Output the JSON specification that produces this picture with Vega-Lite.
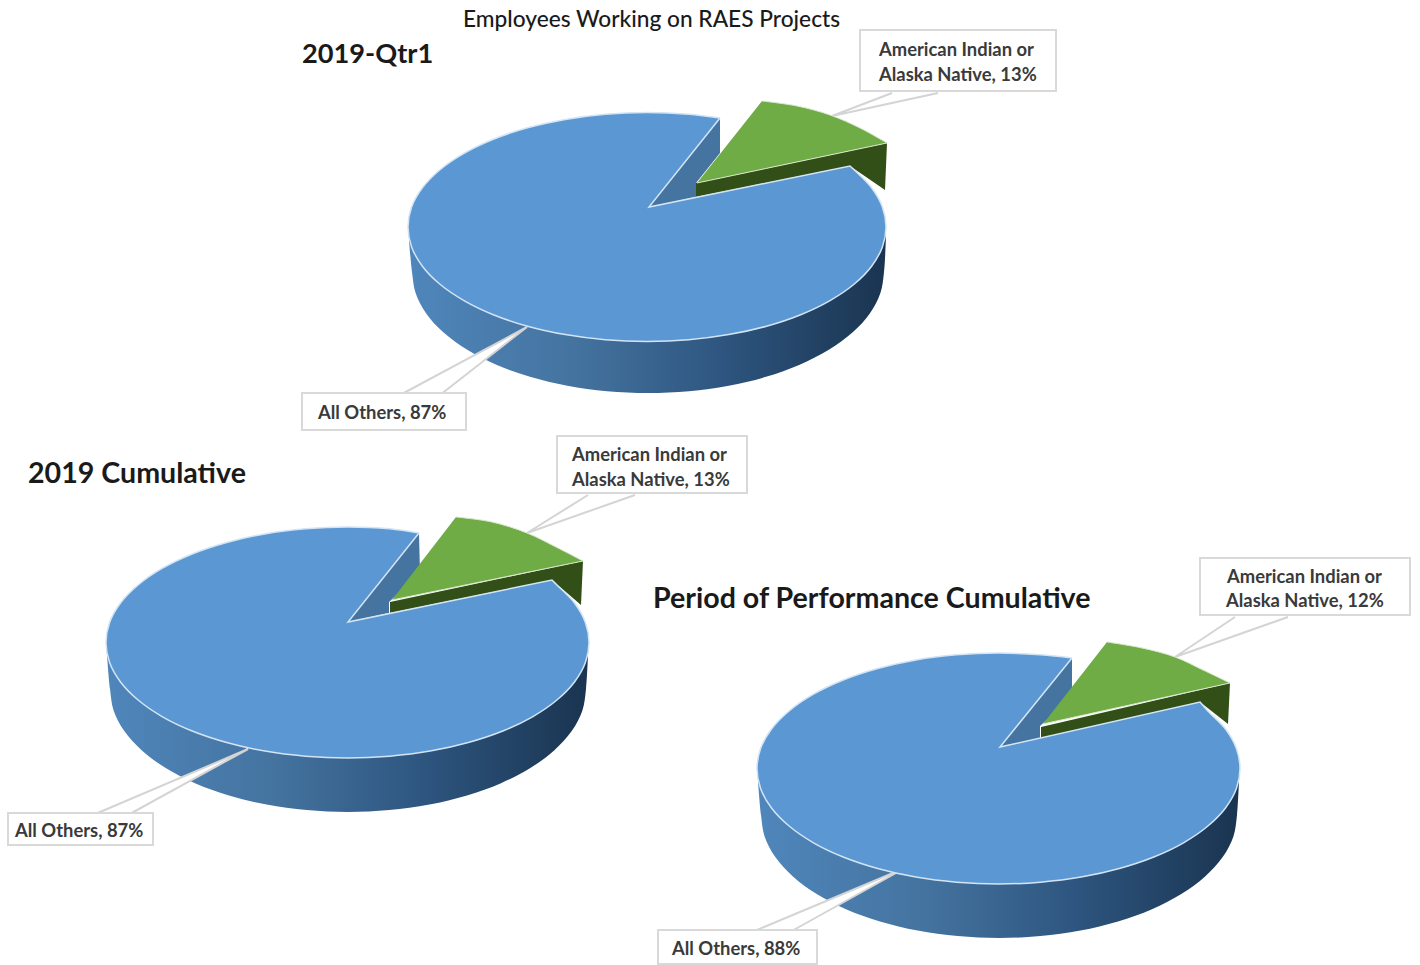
{"$schema":"https://vega.github.io/schema/vega-lite/v6.json","width":1420,"height":965,"autosize":{"type":"fit","contains":"padding"},"padding":0,"background":"white","config":{"view":{"stroke":null}},
"datasets":{
"shapes":[
{"pie":"q","part":"side","seq":1,"x":409,"y":240},{"pie":"q","part":"side","seq":2,"x":412,"y":272},{"pie":"q","part":"side","seq":3,"x":415.6,"y":293},{"pie":"q","part":"side","seq":4,"x":426.2,"y":313.4},{"pie":"q","part":"side","seq":5,"x":443.6,"y":332.5},{"pie":"q","part":"side","seq":6,"x":467.2,"y":349.8},{"pie":"q","part":"side","seq":7,"x":496.3,"y":364.7},{"pie":"q","part":"side","seq":8,"x":530,"y":376.8},{"pie":"q","part":"side","seq":9,"x":567.3,"y":385.7},{"pie":"q","part":"side","seq":10,"x":607,"y":391.2},{"pie":"q","part":"side","seq":11,"x":648,"y":393},{"pie":"q","part":"side","seq":12,"x":689,"y":391.2},{"pie":"q","part":"side","seq":13,"x":728.7,"y":385.7},{"pie":"q","part":"side","seq":14,"x":766,"y":376.8},{"pie":"q","part":"side","seq":15,"x":799.7,"y":364.7},{"pie":"q","part":"side","seq":16,"x":828.8,"y":349.8},{"pie":"q","part":"side","seq":17,"x":852.4,"y":332.5},{"pie":"q","part":"side","seq":18,"x":869.8,"y":313.4},{"pie":"q","part":"side","seq":19,"x":880.4,"y":293},{"pie":"q","part":"side","seq":20,"x":884,"y":272},{"pie":"q","part":"side","seq":21,"x":886,"y":235},
{"pie":"c","part":"side","seq":1,"x":107,"y":655},{"pie":"c","part":"side","seq":2,"x":110,"y":689},{"pie":"c","part":"side","seq":3,"x":113.6,"y":710.4},{"pie":"c","part":"side","seq":4,"x":124.3,"y":731.1},{"pie":"c","part":"side","seq":5,"x":141.9,"y":750.5},{"pie":"c","part":"side","seq":6,"x":165.7,"y":768.1},{"pie":"c","part":"side","seq":7,"x":195,"y":783.2},{"pie":"c","part":"side","seq":8,"x":229,"y":795.5},{"pie":"c","part":"side","seq":9,"x":266.6,"y":804.6},{"pie":"c","part":"side","seq":10,"x":306.7,"y":810.1},{"pie":"c","part":"side","seq":11,"x":348,"y":812},{"pie":"c","part":"side","seq":12,"x":389.3,"y":810.1},{"pie":"c","part":"side","seq":13,"x":429.4,"y":804.6},{"pie":"c","part":"side","seq":14,"x":467,"y":795.5},{"pie":"c","part":"side","seq":15,"x":501,"y":783.2},{"pie":"c","part":"side","seq":16,"x":530.3,"y":768.1},{"pie":"c","part":"side","seq":17,"x":554.1,"y":750.5},{"pie":"c","part":"side","seq":18,"x":571.7,"y":731.1},{"pie":"c","part":"side","seq":19,"x":582.4,"y":710.4},{"pie":"c","part":"side","seq":20,"x":586,"y":689},{"pie":"c","part":"side","seq":21,"x":588,"y":655},
{"pie":"p","part":"side","seq":1,"x":758,"y":781},{"pie":"p","part":"side","seq":2,"x":761,"y":815},{"pie":"p","part":"side","seq":3,"x":764.6,"y":836.4},{"pie":"p","part":"side","seq":4,"x":775.3,"y":857.1},{"pie":"p","part":"side","seq":5,"x":792.9,"y":876.5},{"pie":"p","part":"side","seq":6,"x":816.7,"y":894.1},{"pie":"p","part":"side","seq":7,"x":846,"y":909.2},{"pie":"p","part":"side","seq":8,"x":880,"y":921.5},{"pie":"p","part":"side","seq":9,"x":917.6,"y":930.6},{"pie":"p","part":"side","seq":10,"x":957.7,"y":936.1},{"pie":"p","part":"side","seq":11,"x":999,"y":938},{"pie":"p","part":"side","seq":12,"x":1040.3,"y":936.1},{"pie":"p","part":"side","seq":13,"x":1080.4,"y":930.6},{"pie":"p","part":"side","seq":14,"x":1118,"y":921.5},{"pie":"p","part":"side","seq":15,"x":1152,"y":909.2},{"pie":"p","part":"side","seq":16,"x":1181.3,"y":894.1},{"pie":"p","part":"side","seq":17,"x":1205.1,"y":876.5},{"pie":"p","part":"side","seq":18,"x":1222.7,"y":857.1},{"pie":"p","part":"side","seq":19,"x":1233.4,"y":836.4},{"pie":"p","part":"side","seq":20,"x":1237,"y":815},{"pie":"p","part":"side","seq":21,"x":1239,"y":781},

{"pie":"q","part":"leader","seq":1,"x":400,"y":395},{"pie":"q","part":"leader","seq":2,"x":527,"y":327},{"pie":"q","part":"leader","seq":3,"x":440,"y":395},
{"pie":"q2","part":"leader","seq":1,"x":892,"y":93},{"pie":"q2","part":"leader","seq":2,"x":832,"y":116},{"pie":"q2","part":"leader","seq":3,"x":938,"y":93},
{"pie":"c","part":"leader","seq":1,"x":93,"y":815},{"pie":"c","part":"leader","seq":2,"x":248,"y":749},{"pie":"c","part":"leader","seq":3,"x":128,"y":815},
{"pie":"c2","part":"leader","seq":1,"x":588,"y":495},{"pie":"c2","part":"leader","seq":2,"x":527,"y":533},{"pie":"c2","part":"leader","seq":3,"x":635,"y":495},
{"pie":"p","part":"leader","seq":1,"x":752,"y":932},{"pie":"p","part":"leader","seq":2,"x":905,"y":868},{"pie":"p","part":"leader","seq":3,"x":790,"y":932},
{"pie":"p2","part":"leader","seq":1,"x":1235,"y":617},{"pie":"p2","part":"leader","seq":2,"x":1175,"y":657},{"pie":"p2","part":"leader","seq":3,"x":1288,"y":617},

{"pie":"q","part":"wall","seq":1,"x":720,"y":118},{"pie":"q","part":"wall","seq":2,"x":649,"y":207},{"pie":"q","part":"wall","seq":3,"x":696,"y":197},{"pie":"q","part":"wall","seq":4,"x":696,"y":183},{"pie":"q","part":"wall","seq":5,"x":720,"y":153},
{"pie":"c","part":"wall","seq":1,"x":419,"y":533},{"pie":"c","part":"wall","seq":2,"x":348,"y":622},{"pie":"c","part":"wall","seq":3,"x":389,"y":613},{"pie":"c","part":"wall","seq":4,"x":389,"y":602},{"pie":"c","part":"wall","seq":5,"x":420,"y":573},
{"pie":"p","part":"wall","seq":1,"x":1072,"y":658},{"pie":"p","part":"wall","seq":2,"x":1000,"y":747},{"pie":"p","part":"wall","seq":3,"x":1040,"y":738},{"pie":"p","part":"wall","seq":4,"x":1040,"y":726},{"pie":"p","part":"wall","seq":5,"x":1072,"y":697},

{"pie":"q","part":"greenwall","seq":1,"x":887,"y":143},{"pie":"q","part":"greenwall","seq":2,"x":885,"y":190},{"pie":"q","part":"greenwall","seq":3,"x":850,"y":166},{"pie":"q","part":"greenwall","seq":4,"x":696,"y":197},{"pie":"q","part":"greenwall","seq":5,"x":696,"y":183},
{"pie":"c","part":"greenwall","seq":1,"x":583,"y":561},{"pie":"c","part":"greenwall","seq":2,"x":581,"y":605},{"pie":"c","part":"greenwall","seq":3,"x":552,"y":580},{"pie":"c","part":"greenwall","seq":4,"x":390,"y":613},{"pie":"c","part":"greenwall","seq":5,"x":390,"y":602},
{"pie":"p","part":"greenwall","seq":1,"x":1230,"y":683},{"pie":"p","part":"greenwall","seq":2,"x":1228,"y":724},{"pie":"p","part":"greenwall","seq":3,"x":1200,"y":702},{"pie":"p","part":"greenwall","seq":4,"x":1041,"y":738},{"pie":"p","part":"greenwall","seq":5,"x":1041,"y":727},

{"pie":"q","part":"green","seq":1,"x":762,"y":101},{"pie":"q","part":"green","seq":2,"x":797,"y":106},{"pie":"q","part":"green","seq":3,"x":830,"y":115},{"pie":"q","part":"green","seq":4,"x":860,"y":128},{"pie":"q","part":"green","seq":5,"x":887,"y":143},{"pie":"q","part":"green","seq":5.5,"x":887,"y":143},{"pie":"q","part":"green","seq":6,"x":697,"y":183},
{"pie":"c","part":"green","seq":1,"x":456,"y":517},{"pie":"c","part":"green","seq":2,"x":492,"y":522},{"pie":"c","part":"green","seq":3,"x":527,"y":533},{"pie":"c","part":"green","seq":4,"x":556,"y":547},{"pie":"c","part":"green","seq":5,"x":583,"y":561},{"pie":"c","part":"green","seq":5.5,"x":583,"y":561},{"pie":"c","part":"green","seq":6,"x":392,"y":600},
{"pie":"p","part":"green","seq":1,"x":1107,"y":642},{"pie":"p","part":"green","seq":2,"x":1142,"y":648},{"pie":"p","part":"green","seq":3,"x":1175,"y":657},{"pie":"p","part":"green","seq":4,"x":1203,"y":670},{"pie":"p","part":"green","seq":5,"x":1230,"y":683},{"pie":"p","part":"green","seq":5.5,"x":1230,"y":683},{"pie":"p","part":"green","seq":6,"x":1043,"y":724},

{"pie":"q","part":"top","seq":1,"x":720,"y":118},{"pie":"q","part":"top","seq":2,"x":688.6,"y":114.2},{"pie":"q","part":"top","seq":3,"x":647,"y":112.5},{"pie":"q","part":"top","seq":4,"x":605.4,"y":114.2},{"pie":"q","part":"top","seq":5,"x":565.3,"y":119.4},{"pie":"q","part":"top","seq":6,"x":527.5,"y":127.8},{"pie":"q","part":"top","seq":7,"x":493.3,"y":139.3},{"pie":"q","part":"top","seq":8,"x":464,"y":153.4},{"pie":"q","part":"top","seq":9,"x":440,"y":169.7},{"pie":"q","part":"top","seq":10,"x":422.4,"y":187.8},{"pie":"q","part":"top","seq":11,"x":411.6,"y":207.1},{"pie":"q","part":"top","seq":12,"x":408,"y":227},{"pie":"q","part":"top","seq":13,"x":411.6,"y":246.9},{"pie":"q","part":"top","seq":14,"x":422.4,"y":266.2},{"pie":"q","part":"top","seq":15,"x":440,"y":284.3},{"pie":"q","part":"top","seq":16,"x":464,"y":300.6},{"pie":"q","part":"top","seq":17,"x":493.3,"y":314.7},{"pie":"q","part":"top","seq":18,"x":527.5,"y":326.2},{"pie":"q","part":"top","seq":19,"x":565.3,"y":334.6},{"pie":"q","part":"top","seq":20,"x":605.4,"y":339.8},{"pie":"q","part":"top","seq":21,"x":647,"y":341.5},{"pie":"q","part":"top","seq":22,"x":688.6,"y":339.8},{"pie":"q","part":"top","seq":23,"x":728.7,"y":334.6},{"pie":"q","part":"top","seq":24,"x":766.5,"y":326.2},{"pie":"q","part":"top","seq":25,"x":800.7,"y":314.7},{"pie":"q","part":"top","seq":26,"x":830,"y":300.6},{"pie":"q","part":"top","seq":27,"x":854,"y":284.3},{"pie":"q","part":"top","seq":28,"x":871.6,"y":266.2},{"pie":"q","part":"top","seq":29,"x":882.4,"y":246.9},{"pie":"q","part":"top","seq":30,"x":886,"y":227},{"pie":"q","part":"top","seq":31,"x":882.4,"y":207.1},{"pie":"q","part":"top","seq":32,"x":871.6,"y":187.8},{"pie":"q","part":"top","seq":33,"x":854,"y":169.7},{"pie":"q","part":"top","seq":34,"x":850,"y":166},{"pie":"q","part":"top","seq":34.5,"x":850,"y":166},{"pie":"q","part":"top","seq":35,"x":649,"y":207},{"pie":"q","part":"top","seq":35.5,"x":649,"y":207},{"pie":"q","part":"top","seq":36,"x":720,"y":118},

{"pie":"c","part":"top","seq":1,"x":419,"y":533},{"pie":"c","part":"top","seq":2,"x":389.5,"y":528.8},{"pie":"c","part":"top","seq":3,"x":347.5,"y":527},{"pie":"c","part":"top","seq":4,"x":305.5,"y":528.8},{"pie":"c","part":"top","seq":5,"x":264.9,"y":533.9},{"pie":"c","part":"top","seq":6,"x":226.7,"y":542.5},{"pie":"c","part":"top","seq":7,"x":192.2,"y":554},{"pie":"c","part":"top","seq":8,"x":162.5,"y":568.2},{"pie":"c","part":"top","seq":9,"x":138.4,"y":584.7},{"pie":"c","part":"top","seq":10,"x":120.5,"y":603},{"pie":"c","part":"top","seq":11,"x":109.6,"y":622.4},{"pie":"c","part":"top","seq":12,"x":106,"y":642.5},{"pie":"c","part":"top","seq":13,"x":109.6,"y":662.6},{"pie":"c","part":"top","seq":14,"x":120.5,"y":682},{"pie":"c","part":"top","seq":15,"x":138.4,"y":700.3},{"pie":"c","part":"top","seq":16,"x":162.5,"y":716.8},{"pie":"c","part":"top","seq":17,"x":192.2,"y":731},{"pie":"c","part":"top","seq":18,"x":226.7,"y":742.5},{"pie":"c","part":"top","seq":19,"x":264.9,"y":751.1},{"pie":"c","part":"top","seq":20,"x":305.5,"y":756.2},{"pie":"c","part":"top","seq":21,"x":347.5,"y":758},{"pie":"c","part":"top","seq":22,"x":389.5,"y":756.2},{"pie":"c","part":"top","seq":23,"x":430.1,"y":751.1},{"pie":"c","part":"top","seq":24,"x":468.3,"y":742.5},{"pie":"c","part":"top","seq":25,"x":502.8,"y":731},{"pie":"c","part":"top","seq":26,"x":532.5,"y":716.8},{"pie":"c","part":"top","seq":27,"x":556.6,"y":700.3},{"pie":"c","part":"top","seq":28,"x":574.5,"y":682},{"pie":"c","part":"top","seq":29,"x":585.4,"y":662.6},{"pie":"c","part":"top","seq":30,"x":589,"y":642.5},{"pie":"c","part":"top","seq":31,"x":585.4,"y":622.4},{"pie":"c","part":"top","seq":32,"x":574.5,"y":603},{"pie":"c","part":"top","seq":33,"x":556.6,"y":584.7},{"pie":"c","part":"top","seq":34,"x":552,"y":580},{"pie":"c","part":"top","seq":34.5,"x":552,"y":580},{"pie":"c","part":"top","seq":35,"x":348,"y":622},{"pie":"c","part":"top","seq":35.5,"x":348,"y":622},{"pie":"c","part":"top","seq":36,"x":419,"y":533},

{"pie":"p","part":"top","seq":1,"x":1072,"y":658},{"pie":"p","part":"top","seq":2,"x":1040.5,"y":654.8},{"pie":"p","part":"top","seq":3,"x":998.5,"y":653},{"pie":"p","part":"top","seq":4,"x":956.5,"y":654.8},{"pie":"p","part":"top","seq":5,"x":915.9,"y":659.9},{"pie":"p","part":"top","seq":6,"x":877.7,"y":668.5},{"pie":"p","part":"top","seq":7,"x":843.2,"y":680},{"pie":"p","part":"top","seq":8,"x":813.5,"y":694.2},{"pie":"p","part":"top","seq":9,"x":789.4,"y":710.7},{"pie":"p","part":"top","seq":10,"x":771.5,"y":729},{"pie":"p","part":"top","seq":11,"x":760.6,"y":748.4},{"pie":"p","part":"top","seq":12,"x":757,"y":768.5},{"pie":"p","part":"top","seq":13,"x":760.6,"y":788.6},{"pie":"p","part":"top","seq":14,"x":771.5,"y":808},{"pie":"p","part":"top","seq":15,"x":789.4,"y":826.3},{"pie":"p","part":"top","seq":16,"x":813.5,"y":842.8},{"pie":"p","part":"top","seq":17,"x":843.2,"y":857},{"pie":"p","part":"top","seq":18,"x":877.7,"y":868.5},{"pie":"p","part":"top","seq":19,"x":915.9,"y":877.1},{"pie":"p","part":"top","seq":20,"x":956.5,"y":882.2},{"pie":"p","part":"top","seq":21,"x":998.5,"y":884},{"pie":"p","part":"top","seq":22,"x":1040.5,"y":882.2},{"pie":"p","part":"top","seq":23,"x":1081.1,"y":877.1},{"pie":"p","part":"top","seq":24,"x":1119.3,"y":868.5},{"pie":"p","part":"top","seq":25,"x":1153.8,"y":857},{"pie":"p","part":"top","seq":26,"x":1183.5,"y":842.8},{"pie":"p","part":"top","seq":27,"x":1207.6,"y":826.3},{"pie":"p","part":"top","seq":28,"x":1225.5,"y":808},{"pie":"p","part":"top","seq":29,"x":1236.4,"y":788.6},{"pie":"p","part":"top","seq":30,"x":1240,"y":768.5},{"pie":"p","part":"top","seq":31,"x":1236.4,"y":748.4},{"pie":"p","part":"top","seq":32,"x":1225.5,"y":729},{"pie":"p","part":"top","seq":33,"x":1207.6,"y":710.7},{"pie":"p","part":"top","seq":34,"x":1200,"y":702},{"pie":"p","part":"top","seq":34.5,"x":1200,"y":702},{"pie":"p","part":"top","seq":35,"x":1000,"y":747},{"pie":"p","part":"top","seq":35.5,"x":1000,"y":747},{"pie":"p","part":"top","seq":36,"x":1072,"y":658}
],
"boxes":[
{"x":860,"x2":1056,"y":30,"y2":91},{"x":302,"x2":466,"y":393,"y2":430},
{"x":557,"x2":747,"y":436,"y2":493},{"x":8,"x2":153,"y":813,"y2":845},
{"x":1200,"x2":1410,"y":558,"y2":615},{"x":658,"x2":817,"y":930,"y2":964}
],
"labels":[
{"x":879,"y":50,"t":"American Indian or"},{"x":879,"y":75,"t":"Alaska Native, 13%"},{"x":318,"y":413,"t":"All Others, 87%"},
{"x":572,"y":455,"t":"American Indian or"},{"x":572,"y":480,"t":"Alaska Native, 13%"},{"x":15,"y":831,"t":"All Others, 87%"},
{"x":1227,"y":577,"t":"American Indian or"},{"x":1226,"y":601,"t":"Alaska Native, 12%"},{"x":672,"y":949,"t":"All Others, 88%"}
],
"titleA":[{"x":302,"y":55,"t":"2019-Qtr1"}],
"titleB":[{"x":28,"y":474,"t":"2019 Cumulative"},{"x":653,"y":599,"t":"Period of Performance Cumulative"}],
"heading":[{"x":463,"y":20,"t":"Employees Working on RAES Projects"}]
},
"encoding":{
"x":{"field":"x","type":"quantitative","axis":null,"scale":{"domain":[0,1420],"nice":false,"zero":false}},
"y":{"field":"y","type":"quantitative","axis":null,"scale":{"domain":[965,0],"nice":false,"zero":false}}
},
"layer":[
{"data":{"name":"shapes"},"transform":[{"filter":"datum.part==='side'"}],"mark":{"type":"line","interpolate":"catmull-rom","fill":{"gradient":"linear","x1":0,"y1":0,"x2":1,"y2":0,"stops":[{"offset":0,"color":"#4f86bb"},{"offset":0.35,"color":"#44739f"},{"offset":0.65,"color":"#2e5680"},{"offset":1,"color":"#1a3450"}]},"strokeWidth":0},"encoding":{"detail":{"field":"pie"},"order":{"field":"seq","type":"quantitative"}}},
{"data":{"name":"shapes"},"transform":[{"filter":"datum.part==='leader'"}],"mark":{"type":"line","fill":"#ffffff","stroke":"#d4d4d4","strokeWidth":2},"encoding":{"detail":{"field":"pie"},"order":{"field":"seq","type":"quantitative"}}},
{"data":{"name":"boxes"},"mark":{"type":"rect","fill":"#ffffff","stroke":"#d9d9d9","strokeWidth":2},"encoding":{"x2":{"field":"x2"},"y2":{"field":"y2"}}},
{"data":{"name":"shapes"},"transform":[{"filter":"datum.part==='wall'"}],"mark":{"type":"line","fill":"#44749f","strokeWidth":0},"encoding":{"detail":{"field":"pie"},"order":{"field":"seq","type":"quantitative"}}},
{"data":{"name":"shapes"},"transform":[{"filter":"datum.part==='greenwall'"}],"mark":{"type":"line","fill":"#334f18","strokeWidth":0},"encoding":{"detail":{"field":"pie"},"order":{"field":"seq","type":"quantitative"}}},
{"data":{"name":"shapes"},"transform":[{"filter":"datum.part==='green'"}],"mark":{"type":"line","interpolate":"catmull-rom","fill":"#6fac45","stroke":"#dbe8cf","strokeWidth":1},"encoding":{"detail":{"field":"pie"},"order":{"field":"seq","type":"quantitative"}}},
{"data":{"name":"shapes"},"transform":[{"filter":"datum.part==='top'"}],"mark":{"type":"line","interpolate":"catmull-rom","fill":"#5b98d3","stroke":"#d3e4f4","strokeWidth":1.5},"encoding":{"detail":{"field":"pie"},"order":{"field":"seq","type":"quantitative"}}},
{"data":{"name":"labels"},"mark":{"type":"text","align":"left","baseline":"middle","font":"Lato","fontSize":18.4,"fontWeight":"bold","color":"#3a3a3a"},"encoding":{"text":{"field":"t"}}},
{"data":{"name":"titleA"},"mark":{"type":"text","align":"left","baseline":"middle","font":"Lato","fontSize":27.2,"fontWeight":"bold","color":"#1a1a1a"},"encoding":{"text":{"field":"t"}}},
{"data":{"name":"titleB"},"mark":{"type":"text","align":"left","baseline":"middle","font":"Lato","fontSize":28.6,"fontWeight":"bold","color":"#1a1a1a"},"encoding":{"text":{"field":"t"}}},
{"data":{"name":"heading"},"mark":{"type":"text","align":"left","baseline":"middle","font":"Lato","fontSize":22.7,"fontWeight":500,"color":"#1a1a1a"},"encoding":{"text":{"field":"t"}}}
]}
